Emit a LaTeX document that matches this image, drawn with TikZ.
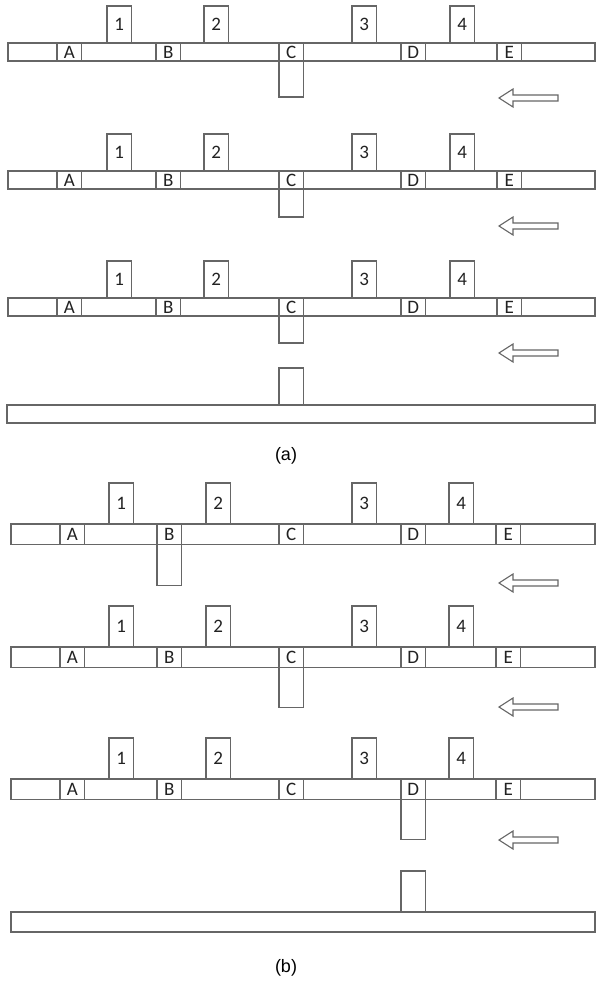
\documentclass[tikz,border=0pt]{standalone}
\usepackage{fontspec}
\setmainfont{Carlito}
\newfontfamily\capfont{Liberation Sans}
\usetikzlibrary{positioning}
\definecolor{edgegray}{HTML}{666666}
\definecolor{inkgray}{HTML}{222222}

\begin{document}
\begin{tikzpicture}[
    x=1pt, y=-1pt,
    bar/.style={rectangle, draw=edgegray, line width=1.2pt, fill=white,
                inner sep=0pt, outer sep=0pt, anchor=north west},
    slot/.style={rectangle, draw=edgegray, line width=1.2pt, fill=white, text=inkgray,
                 inner sep=0pt, outer sep=0pt, minimum width=24.5, anchor=north west,
                 font=\fontsize{19}{20}\selectfont},
    post/.style={slot, minimum width=24.5, anchor=south west},
    pusher/.style={rectangle, draw=edgegray, line width=1.2pt, fill=white,
                   inner sep=0pt, outer sep=0pt, minimum width=24.5},
    hollow/.style={draw=edgegray, line width=1.1pt, fill=white, line join=miter},
    caption/.style={font=\capfont\fontsize{18}{20}\selectfont, text=black},
]
\useasboundingbox (0,0) rectangle (596,986);

% panel (a)
\foreach \r/\ty/\pu/\pl/\ay in {1/43/C/36/98, 2/171/C/28/226, 3/298/C/27/353}{
  \node[bar, minimum width=587, minimum height=18] (a\r) at (8,\ty) {};
  \foreach \s/\sx in {A/57, B/156, C/279, D/401, E/497}
    \node[slot, minimum height=18] (a\r\s) at (\sx,\ty) {\s};
  \foreach \p/\px in {1/107, 2/204, 3/352, 4/450}
    \node[post, minimum height=37] (a\r-\p) at (\px,\ty) {\p};
  \node[pusher, minimum height=\pl, anchor=north] (a\r push) at (a\r\pu.south) {};
  \draw[hollow] (558,\ay-3) -- ++(-45,0) -- ++(0,-6) -- ++(-14,9)
    -- ++(14,9) -- ++(0,-6) -- ++(45,0) -- cycle;
}
\node[bar, minimum width=588, minimum height=18] (abase) at (7,405) {};
\node[pusher, minimum height=37, anchor=south] (apiece) at (abase.north -| a3C) {};
\node[caption] (acap) at (286,456) {(a)};

% panel (b)
\foreach \r/\ty/\pu/\pl/\ay in {1/524/B/41/583, 2/647/C/40/707, 3/779/D/40/840}{
  \node[bar, minimum width=584, minimum height=20.5] (b\r) at (11,\ty) {};
  \foreach \s/\sx in {A/60, B/157, C/279, D/401, E/496}
    \node[slot, minimum height=20.5] (b\r\s) at (\sx,\ty) {\s};
  \foreach \p/\px in {1/109, 2/206, 3/352, 4/449}
    \node[post, minimum height=41] (b\r-\p) at (\px,\ty) {\p};
  \node[pusher, minimum height=\pl, anchor=north] (b\r push) at (b\r\pu.south) {};
  \draw[hollow] (558,\ay-3) -- ++(-45,0) -- ++(0,-6) -- ++(-14,9)
    -- ++(14,9) -- ++(0,-6) -- ++(45,0) -- cycle;
}
\node[bar, minimum width=584, minimum height=20] (bbase) at (11,912) {};
\node[pusher, minimum height=41, anchor=south] (bpiece) at (bbase.north -| b3D) {};
\node[caption] (bcap) at (286,968) {(b)};
\end{tikzpicture}
\end{document}
